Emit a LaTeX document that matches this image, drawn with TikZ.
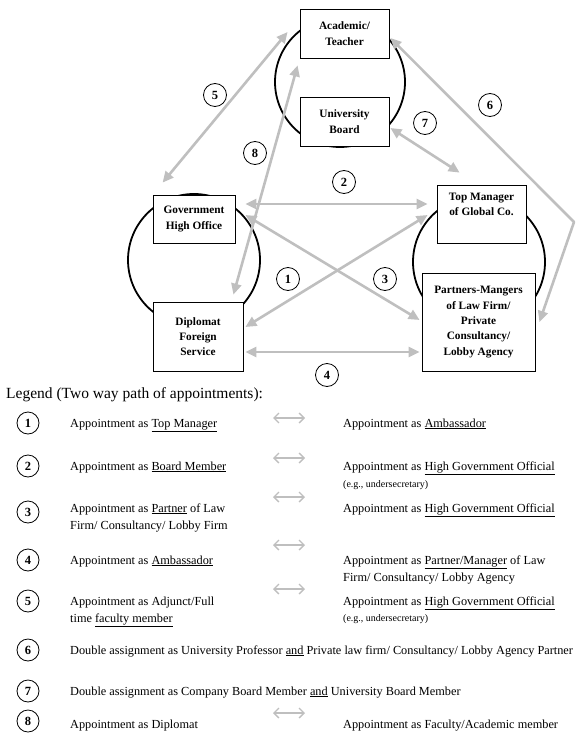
\documentclass[tikz,border=0pt]{standalone}
\usepackage{fontspec}
\setmainfont{Liberation Serif}
\usetikzlibrary{arrows.meta,calc}
\definecolor{linkgray}{HTML}{BFBFBF}
\newcommand{\uln}[1]{\underline{#1}}
\begin{document}
\begin{tikzpicture}[x=1pt,y=-1pt,
  box/.style={draw=black, line width=0.8pt, fill=white, align=center, inner sep=0pt,
    font=\fontsize{11.3}{15.3}\selectfont\bfseries},
  ring/.style={draw=black, line width=1.8pt},
  link/.style={draw=linkgray, line width=2.6pt, line join=round,
    {Triangle[length=11pt,width=10pt]}-{Triangle[length=11pt,width=10pt]}},
  num/.style={circle, draw=black, line width=0.8pt, fill=white, minimum size=23pt,
    inner sep=0pt, font=\fontsize{12.5}{12.5}\selectfont\bfseries},
  lnum/.style={num, minimum size=22pt},
  ltext/.style={anchor=base west, inner sep=0pt, font=\fontsize{12.3}{14}\selectfont},
  lsmall/.style={anchor=base west, inner sep=0pt, font=\fontsize{10}{12}\selectfont},
  legarrow/.style={draw=linkgray, line width=1.3pt,
    {Straight Barb[length=5pt,width=10pt]}-{Straight Barb[length=5pt,width=10pt]}}
]
\useasboundingbox (0,0) rectangle (576,738);

% three groups of positions
\draw[ring] (340,82) circle[radius=65];
\draw[ring] (194,260) circle[radius=66];
\draw[ring] (479,262) circle[radius=66];

% positions
\node[box, minimum width=89, minimum height=49] (acad) at (344.5,33.5) {Academic/\\Teacher};
\node[box, minimum width=89, minimum height=49] (univ) at (344.5,121.5) {University\\Board};
\node[box, minimum width=82, minimum height=48] (gov) at (194,219) {Government\\High Office};
\node[box, minimum width=90, minimum height=69] (dipl) at (198,336.5) {Diplomat\\Foreign\\Service};
\node[box, minimum width=89, minimum height=58] (top) at (481.5,214) {Top Manager\\of Global Co.\\\strut};
\node[box, minimum width=113, minimum height=98] (part) at (478.5,322)
  {Partners-Mangers\\of Law Firm/\\Private\\Consultancy/\\Lobby Agency};

% two way paths
\coordinate (bend) at (574,222);
\draw[link] ($(acad.west)+(-12,-1.5)$) -- ($(gov.north west)+(10,-12)$);
\draw[link] ($(acad.south west)+(-2,7)$) -- ($(dipl.north east)+(-10,-7)$);
\draw[link] ($(acad.east)+(1,4.5)$) -- (bend) -- ($(part.east)+(4,0)$);
\draw[link] ($(univ.east)+(1,6.5)$) -- ($(top.north west)+(23,-12)$);
\draw[link] ($(gov.east)+(10,-15)$) -- ($(top.west)+(-9,-10)$);
\draw[link] ($(top.west)+(-9,1)$) -- ($(dipl.east)+(2,-9.5)$);
\draw[link] ($(gov.east)+(10,-4)$) -- ($(part.west)+(-2,-2)$);
\draw[link] ($(dipl.east)+(2,15.5)$) -- ($(part.west)+(-2,30)$);

% path numbers
\node[num] (n1) at (288,279) {1};
\node[num] (n2) at (344,182) {2};
\node[num] (n3) at (385,279) {3};
\node[num] (n4) at (327,375) {4};
\node[num] (n5) at (215,95) {5};
\node[num] (n6) at (490,105) {6};
\node[num] (n7) at (425,123) {7};
\node[num] (n8) at (255,153) {8};

% legend
\node[anchor=base west, inner sep=0pt, font=\fontsize{15.5}{18}\selectfont] (ltitle) at (6,398)
  {Legend (Two way path of appointments):};

\node[lnum] (l1) at (28,423) {1};
\node[lnum] (l2) at (28,466) {2};
\node[lnum] (l3) at (28,512) {3};
\node[lnum] (l4) at (28,560) {4};
\node[lnum] (l5) at (28,601) {5};
\node[lnum] (l6) at (28,650) {6};
\node[lnum] (l7) at (28,691) {7};
\node[lnum] (l8) at (28,721) {8};

\node[ltext] (t1a) at (70,427) {Appointment as \uln{Top Manager}};
\node[ltext] (t1b) at (343,427) {Appointment as \uln{Ambassador}};

\node[ltext] (t2a) at (70,470) {Appointment as \uln{Board Member}};
\node[ltext] (t2b) at (343,470) {Appointment as \uln{High Government Official}};
\node[lsmall] (t2c) at (343,487) {(e.g., undersecretary)};

\node[ltext] (t3a) at (70,512) {Appointment as \uln{Partner} of Law};
\node[ltext] (t3b) at (70,529) {Firm/ Consultancy/ Lobby Firm};
\node[ltext] (t3c) at (343,512) {Appointment as \uln{High Government Official}};

\node[ltext] (t4a) at (70,564) {Appointment as \uln{Ambassador}};
\node[ltext] (t4b) at (343,564) {Appointment as \uln{Partner/Manager} of Law};
\node[ltext] (t4c) at (343,581) {Firm/ Consultancy/ Lobby Agency};

\node[ltext] (t5a) at (70,605) {Appointment as Adjunct/Full};
\node[ltext] (t5b) at (70,622) {time \uln{faculty member}};
\node[ltext] (t5c) at (343,605) {Appointment as \uln{High Government Official}};
\node[lsmall] (t5d) at (343,621) {(e.g., undersecretary)};

\node[ltext] (t6) at (70,654)
  {Double assignment as University Professor \uln{and} Private law firm/ Consultancy/ Lobby Agency Partner};
\node[ltext] (t7) at (70,695)
  {Double assignment as Company Board Member \uln{and} University Board Member};

\node[ltext] (t8a) at (70,728) {Appointment as Diplomat};
\node[ltext] (t8b) at (343,728) {Appointment as Faculty/Academic member};

% legend arrows
\foreach \i/\yy in {1/418, 2/458, 3/497, 4/545, 5/589, 8/713} {
  \coordinate (la\i) at (273,\yy);
  \coordinate (lb\i) at (305,\yy);
  \draw[legarrow] (la\i) -- (lb\i);
}
\end{tikzpicture}
\end{document}
